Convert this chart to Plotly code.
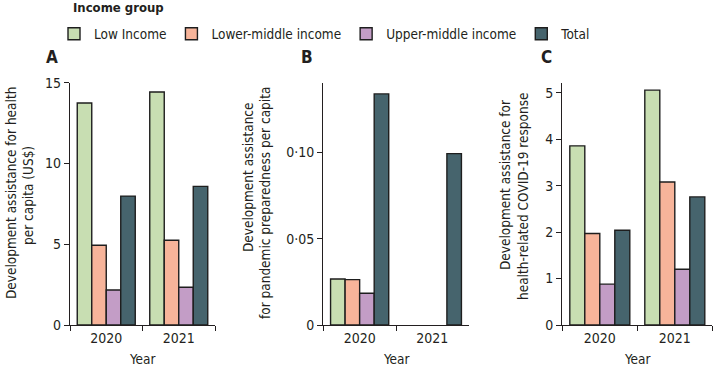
import plotly.graph_objects as go

years = ["2020", "2021"]
groups = ["Low Income", "Lower-middle income", "Upper-middle income", "Total"]
colors = ["#c8deb2", "#f7b49a", "#c39dc6", "#46646d"]

# Panel A: development assistance for health per capita (US$)
a_low = [13.74, 14.42]
a_lower_mid = [4.94, 5.25]
a_upper_mid = [2.17, 2.34]
a_total = [7.98, 8.58]

# Panel B: pandemic preparedness per capita
b_low = [0.0267, None]
b_lower_mid = [0.0263, None]
b_upper_mid = [0.0184, None]
b_total = [0.134, 0.0994]

# Panel C: COVID-19 response
c_low = [3.86, 5.06]
c_lower_mid = [1.97, 3.08]
c_upper_mid = [0.88, 1.20]
c_total = [2.04, 2.76]

panels = [
    ("x", "y", [a_low, a_lower_mid, a_upper_mid, a_total]),
    ("x2", "y2", [b_low, b_lower_mid, b_upper_mid, b_total]),
    ("x3", "y3", [c_low, c_lower_mid, c_upper_mid, c_total]),
]

FONT = "DejaVu Sans Condensed, Lato, sans-serif"
TXT = "#231f20"

fig = go.Figure()
for pi, (xa, ya, series) in enumerate(panels):
    for gi, vals in enumerate(series):
        fig.add_trace(go.Bar(
            x=years, y=vals, name=groups[gi], xaxis=xa, yaxis=ya,
            marker=dict(color=colors[gi], line=dict(color="#1e1e1e", width=1.4)),
            showlegend=(pi == 0), legendgroup=groups[gi], offsetgroup=str(gi),
        ))

W, H = 713, 370
def fx(px):
    return px / W
def fy(py):
    return (H - py) / H

ydom = [fy(325), fy(82.7)]
xdoms = [[fx(70), fx(215)], [fx(323.3), fx(468.7)], [fx(562.3), fx(712.3)]]
yranges = [[0, 15.0], [0, 0.1405], [0, 5.22]]
ytickvals = [[0, 5, 10, 15], [0, 0.05, 0.10], [0, 1, 2, 3, 4, 5]]
yticktext = [["0", "5", "10", "15"], ["0", "0·05", "0·10"], ["0", "1", "2", "3", "4", "5"]]

axis_common = dict(showline=True, linecolor=TXT, linewidth=1.3, ticks="outside",
                   tickcolor=TXT, tickwidth=1.3, ticklen=5, showgrid=False, zeroline=False,
                   automargin=False,
                   tickfont=dict(family=FONT, size=14, color=TXT))
layout = {}
for i in range(3):
    sx = "xaxis" if i == 0 else f"xaxis{i+1}"
    sy = "yaxis" if i == 0 else f"yaxis{i+1}"
    anchor_y = "y" if i == 0 else f"y{i+1}"
    anchor_x = "x" if i == 0 else f"x{i+1}"
    layout[sx] = dict(axis_common, domain=xdoms[i], anchor=anchor_y, type="category",
                      tickson="boundaries", range=[-0.5, 1.5], fixedrange=True)
    layout[sy] = dict(axis_common, domain=ydom, anchor=anchor_x, range=yranges[i],
                      tickvals=ytickvals[i], ticktext=yticktext[i], fixedrange=True)

fig.update_layout(**layout)

annotations = []
# y-axis title lines: (text, x px, y center px)
ytitle_lines = [
    ("Development assistance for health", 11, 193),
    ("per capita (US$)", 28, 196),
    ("Development assistance", 248, 178),
    ("for pandemic preparedness per capita", 265, 203),
    ("Development assistance for", 505, 185),
    ("health-related COVID-19 response", 523, 196),
]
for t, px, py in ytitle_lines:
    annotations.append(dict(text=t, x=fx(px), y=fy(py), xref="paper", yref="paper",
                            textangle=-90, showarrow=False,
                            font=dict(family=FONT, size=13.5, color=TXT),
                            xanchor="center", yanchor="middle"))
for i in range(3):
    annotations.append(dict(text="Year", x=(xdoms[i][0] + xdoms[i][1]) / 2, y=fy(359),
                            xref="paper", yref="paper", showarrow=False,
                            font=dict(family=FONT, size=13.5, color=TXT),
                            xanchor="center", yanchor="middle"))
letters = [("A", 52), ("B", 307), ("C", 546)]
for t, px in letters:
    annotations.append(dict(text=f"<b>{t}</b>", x=fx(px), y=fy(57), xref="paper", yref="paper",
                            showarrow=False, font=dict(family=FONT, size=17, color=TXT),
                            xanchor="center", yanchor="middle"))
annotations.append(dict(text="<b>Income group</b>", x=fx(71), y=fy(7.5), xref="paper", yref="paper",
                        showarrow=False, font=dict(family=FONT, size=13, color=TXT),
                        xanchor="left", yanchor="middle"))

fig.update_layout(
    template="none",
    width=W, height=H,
    margin=dict(l=0, r=0, t=0, b=0, pad=0),
    paper_bgcolor="white", plot_bgcolor="white",
    barmode="group", bargap=0.2, bargroupgap=0,
    annotations=annotations,
    legend=dict(orientation="h", x=fx(54), y=fy(34), xanchor="left", yanchor="middle",
                font=dict(family=FONT, size=13.5, color=TXT), itemwidth=30,
                traceorder="normal", tracegroupgap=0, bgcolor="rgba(0,0,0,0)", borderwidth=0),
    font=dict(family=FONT, color=TXT),
)

fig.write_html("out.html", config={"displayModeBar": False},
               post_script="document.body.style.margin='0';document.body.style.padding='0';")
